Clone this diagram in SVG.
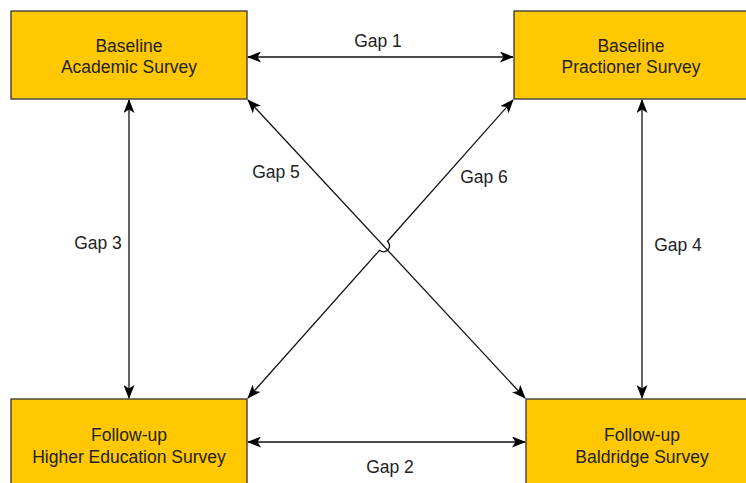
<svg xmlns="http://www.w3.org/2000/svg" width="746" height="483" viewBox="0 0 746 483">
<style>
.box{fill:#FFC800;stroke:#333333;stroke-width:1.3}
.t{font-family:"Liberation Sans",Arial,sans-serif;font-size:17.5px;fill:#222222;text-anchor:middle}
.c{fill:none;stroke:#111111;stroke-width:1.3}
</style>
<defs>
<marker id="ah" viewBox="0 0 14 11" refX="13" refY="5.5" markerWidth="14" markerHeight="11" markerUnits="userSpaceOnUse" orient="auto-start-reverse">
<path d="M0,0 L14,5.5 L0,11 L3.5,5.5 Z" fill="#000000"/>
</marker>
</defs>
<rect width="746" height="483" fill="#ffffff"/>
<g id="connectors">
<path class="c" d="M248,57 L513,57" marker-start="url(#ah)" marker-end="url(#ah)"/>
<path class="c" d="M248,442 L525,442" marker-start="url(#ah)" marker-end="url(#ah)"/>
<path class="c" d="M129,100 L129,398" marker-start="url(#ah)" marker-end="url(#ah)"/>
<path class="c" d="M642,100 L642,398" marker-start="url(#ah)" marker-end="url(#ah)"/>
<path class="c" d="M248,100 L525,398" marker-start="url(#ah)" marker-end="url(#ah)"/>
<path class="c" d="M248,398 L379.5,250.3 A6,6 0 0 0 387.5,241.3 L513,100" marker-start="url(#ah)" marker-end="url(#ah)"/>
<text class="t" x="378" y="47">Gap 1</text>
<text class="t" x="390" y="473">Gap 2</text>
<text class="t" x="98" y="249">Gap 3</text>
<text class="t" x="678" y="251">Gap 4</text>
<text class="t" x="276" y="178">Gap 5</text>
<text class="t" x="484" y="183">Gap 6</text>
</g>
<g id="node-baseline-academic">
<rect class="box" x="11" y="11" width="236" height="88"/>
<text class="t" x="129" y="52">Baseline</text>
<text class="t" x="129" y="73">Academic Survey</text>
</g>
<g id="node-baseline-practioner">
<rect class="box" x="514" y="11" width="236" height="88"/>
<text class="t" x="631" y="52">Baseline</text>
<text class="t" x="631" y="73">Practioner Survey</text>
</g>
<g id="node-followup-higher-ed">
<rect class="box" x="11" y="399" width="236" height="92"/>
<text class="t" x="129" y="441">Follow-up</text>
<text class="t" x="129" y="463">Higher Education Survey</text>
</g>
<g id="node-followup-baldridge">
<rect class="box" x="526" y="399" width="236" height="92"/>
<text class="t" x="642" y="441">Follow-up</text>
<text class="t" x="642" y="463">Baldridge Survey</text>
</g>
</svg>
